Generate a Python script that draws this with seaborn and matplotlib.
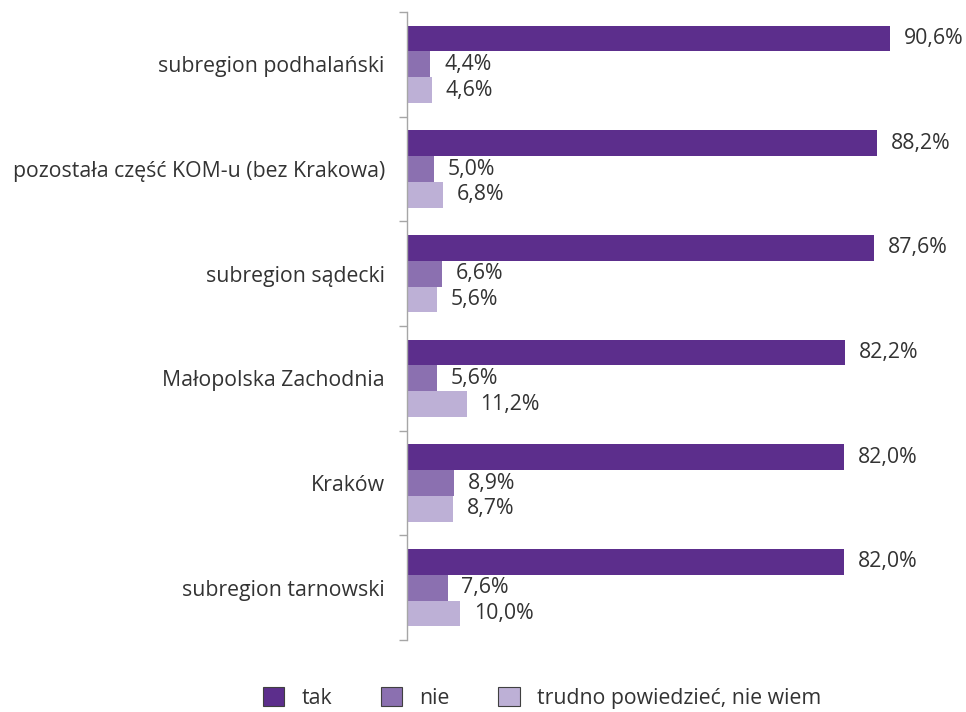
import numpy as np
import pandas as pd
import matplotlib
matplotlib.use("Agg")
import matplotlib.pyplot as plt
import seaborn as sns

# Data
regions = ["subregion podhalański", "pozostała część KOM-u (bez Krakowa)",
           "subregion sądecki", "Małopolska Zachodnia", "Kraków",
           "subregion tarnowski"]
answers = ["tak", "nie", "trudno powiedzieć, nie wiem"]
tak = [90.6, 88.2, 87.6, 82.2, 82.0, 82.0]
nie = [4.4, 5.0, 6.6, 5.6, 8.9, 7.6]
trudno = [4.6, 6.8, 5.6, 11.2, 8.7, 10.0]
colors = ["#5c2e8c", "#8b70b0", "#bdb0d6"]

# Long form table for seaborn
df = pd.DataFrame({
    "region": regions * 3,
    "answer": [answers[0]] * 6 + [answers[1]] * 6 + [answers[2]] * 6,
    "value": tak + nie + trudno,
})

sns.set_style("white")
plt.rcParams["font.family"] = ["Open Sans", "DejaVu Sans"]

fig = plt.figure(figsize=(9.66, 7.12), dpi=100)
ax = fig.add_axes([407 / 966, 1 - 640 / 712, (940 - 407) / 966, (640 - 12) / 712])

sns.barplot(data=df, y="region", x="value", hue="answer", order=regions,
            hue_order=answers, palette=colors, orient="h", width=0.74,
            dodge=True, saturation=1, errorbar=None, ax=ax, legend=False,
            linewidth=0)

# Value labels with comma decimals
for cont in ax.containers:
    labels = [f"{b.get_width():.1f}%".replace(".", ",") for b in cont]
    ax.bar_label(cont, labels=labels, padding=10, fontsize=15.3, color="#333333")

ax.set_xlim(0, 100)
ax.set_ylim(5.5, -0.5)
ax.set_xlabel("")
ax.set_ylabel("")
ax.set_xticks([])
for s in ["top", "right", "bottom"]:
    ax.spines[s].set_visible(False)
ax.spines["left"].set_color("#a6a6a6")
ax.spines["left"].set_linewidth(1)

# category labels without ticks, boundary ticks on minor
ax.tick_params(axis="y", which="major", left=True, length=0, pad=16,
               labelsize=15.3, labelcolor="#333333")
ax.set_yticks(np.arange(-0.5, 6, 1), minor=True)
ax.tick_params(axis="y", which="minor", left=True, length=6,
               color="#a6a6a6", width=1)

# Legend at bottom
handles = [plt.Rectangle((0, 0), 1, 1, facecolor=c, edgecolor="#404040",
                         linewidth=0.8) for c in colors]
fig.legend(handles, answers, loc="center", ncol=3, frameon=False,
           bbox_to_anchor=(542 / 966, 1 - 698 / 712), fontsize=15.3,
           handlelength=1.0, handleheight=1.0, columnspacing=2.3,
           handletextpad=0.8, labelcolor="#333333")

fig.savefig("out.png", dpi=100)
